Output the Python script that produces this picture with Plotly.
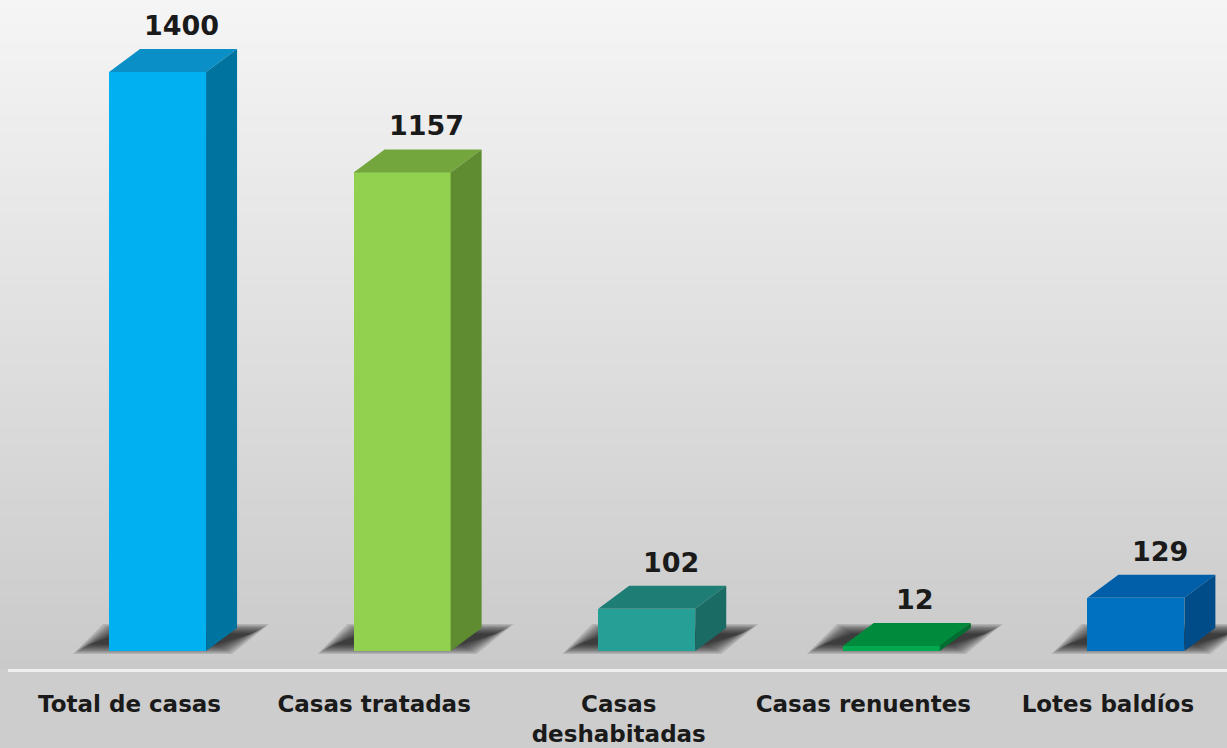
import plotly.graph_objects as go

# ---- data ----
categories = ["Total de casas", "Casas tratadas", "Casas<br>deshabitadas", "Casas renuentes", "Lotes baldíos"]
values = [1400, 1157, 102, 12, 129]

# ---- style ----
front_colors = ["#00b0f0", "#92d050", "#26a096", "#00a84f", "#0070c0"]
top_colors = ["#0a8fc6", "#74a63e", "#1e7d75", "#008a3c", "#005fa8"]
side_colors = ["#00739e", "#5f8b31", "#1a6b64", "#006e30", "#004c88"]

FONT = "DejaVu Sans"
px_x = 244.6          # pixels per category unit
px_y = 0.4136         # pixels per value unit
f_left = -20.5 / px_x
f_right = 76.5 / px_x
dx = 31 / px_x
dy = 23 / px_y


def X(p):
    return p / px_x


def Y(p):
    return p / px_y


fig = go.Figure()

xs = list(range(len(categories)))

# front faces
fig.add_trace(go.Bar(
    x=[i + (f_left + f_right) / 2 for i in xs], y=values, width=f_right - f_left,
    marker=dict(color=front_colors, line=dict(width=0)), hoverinfo="skip", showlegend=False,
))

# top and side faces
for i, v in zip(xs, values):
    L, R = i + f_left, i + f_right
    fig.add_trace(go.Scatter(
        x=[L, R, R + dx, L + dx, L], y=[v, v, v + dy, v + dy, v],
        fill="toself", fillcolor=top_colors[i], mode="lines", line=dict(width=0),
        hoverinfo="skip", showlegend=False))
    fig.add_trace(go.Scatter(
        x=[R, R + dx, R + dx, R, R], y=[0, dy, v + dy, v, 0],
        fill="toself", fillcolor=side_colors[i], mode="lines", line=dict(width=0),
        hoverinfo="skip", showlegend=False))

shapes = []
# background gradient
n = 75
c_top, c_bot = 245, 202
for k in range(n):
    t = k / (n - 1)
    c = round(c_top + (c_bot - c_top) * t)
    shapes.append(dict(type="rect", xref="paper", yref="paper", x0=-0.01, x1=1.01,
                       y0=1 - (k + 1) / n, y1=1 - k / n + 0.002,
                       fillcolor=f"rgb({c},{c},{c})", line=dict(width=0), layer="below"))
# blurred shadows on the floor
for i, v in zip(xs, values):
    L, R = i + f_left, i + f_right
    for e in range(0, 18, 2):
        path = (f"M {L + X(-36 + e)},{Y(-3 + e * 0.6)} "
                f"L {R + dx + X(-5 - e)},{Y(-3 + e * 0.6)} "
                f"L {R + dx + X(32 - e)},{Y(27 - e * 0.6)} "
                f"L {L + X(-6 + e)},{Y(27 - e * 0.6)} Z")
        shapes.append(dict(type="path", xref="x", yref="y", path=path,
                           fillcolor="rgba(0,0,0,0.12)", line=dict(width=0), layer="below"))

annotations = []
for i, v in zip(xs, values):
    annotations.append(dict(
        x=i + X(52), y=v + dy, xref="x", yref="y", text=f"<b>{v}</b>",
        showarrow=False, yanchor="bottom", yshift=6,
        font=dict(family=FONT, size=27, color="#1a1a1a")))

fig.update_layout(
    width=1227, height=748,
    margin=dict(l=8, r=0, t=0, b=79),
    paper_bgcolor="#cdcdcd", plot_bgcolor="rgba(0,0,0,0)",
    shapes=shapes, annotations=annotations,
    showlegend=False, bargap=0,
    xaxis=dict(range=[-0.497, 4.487], tickvals=xs, ticktext=[f"<b>{c}</b>" for c in categories],
               showgrid=False, zeroline=False, showline=True, linecolor="#efefef", linewidth=3,
               ticks="outside", ticklen=12, tickcolor="rgba(0,0,0,0)",
               tickfont=dict(family=FONT, size=23, color="#1a1a1a"), fixedrange=True),
    yaxis=dict(range=[-43.5, 1574], visible=False, showgrid=False, zeroline=False, fixedrange=True),
)

fig.write_html("out.html", config={"displayModeBar": False},
               post_script="document.body.style.margin='0';document.body.style.overflow='hidden';")
